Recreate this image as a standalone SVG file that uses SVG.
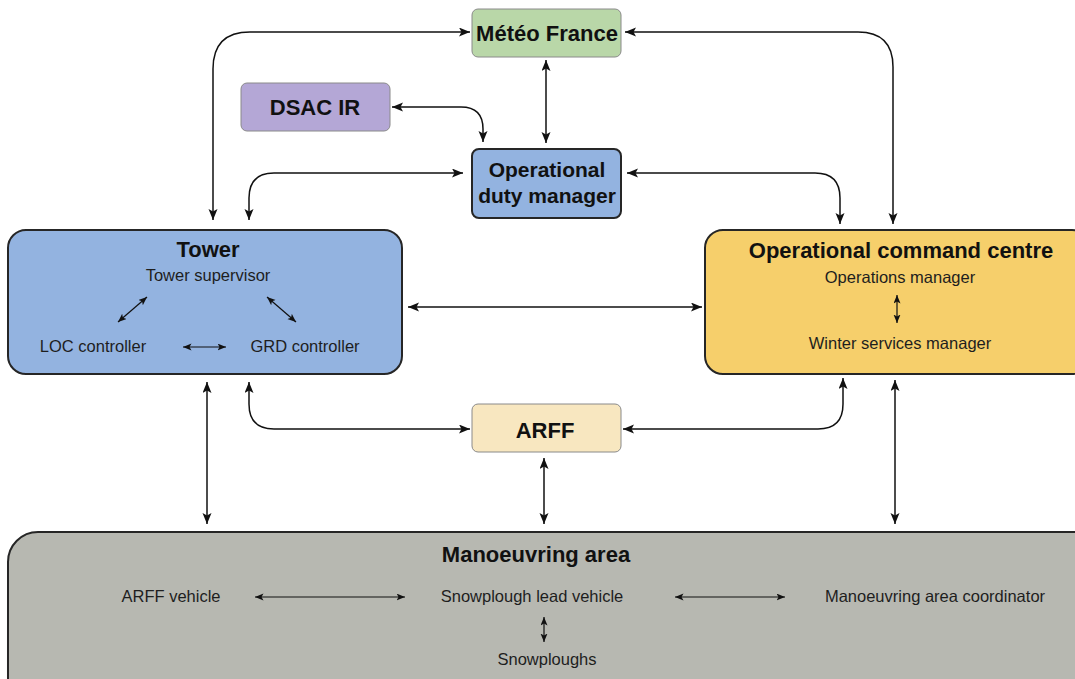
<svg xmlns="http://www.w3.org/2000/svg" width="1075" height="679" viewBox="0 0 1075 679">
<defs>
<style>
text{font-family:"Liberation Sans",Arial,sans-serif;fill:#111;text-anchor:middle}
.t{font-weight:bold;font-size:22px}
.s{font-size:16.5px;fill:#1e1e1e}
.c{fill:none;stroke:#111;stroke-width:1.5;marker-start:url(#ah);marker-end:url(#ah)}
.i{fill:none;stroke:#111;stroke-width:1.2;marker-start:url(#as);marker-end:url(#as)}
.thin{fill:#b9d7a8;stroke:#8a8a8a;stroke-width:1}
.bold{stroke:#262626;stroke-width:2}
</style>
<marker id="ah" markerUnits="userSpaceOnUse" markerWidth="12" markerHeight="10" refX="11" refY="4.5" orient="auto-start-reverse" viewBox="0 0 12 10">
<path d="M0,0 L11,4.5 L0,9 L2.5,4.5 z" fill="#111"/>
</marker>
<marker id="as" markerUnits="userSpaceOnUse" markerWidth="10" markerHeight="8" refX="8.5" refY="3.5" orient="auto-start-reverse" viewBox="0 0 10 8">
<path d="M0,0 L8.5,3.5 L0,7 L2,3.5 z" fill="#111"/>
</marker>
</defs>
<rect width="1075" height="679" fill="#ffffff"/>

<g id="connectors">
<path class="c" d="M470,32 H250 Q213,32 213,69 V220"/>
<path class="c" d="M625,32 H858 Q893,32 893,67 V224"/>
<path class="c" d="M392,107 H461 Q483,107 483,129 V142"/>
<path class="c" d="M546,60 V143"/>
<path class="c" d="M463,173 H274 Q249,173 249,198 V220"/>
<path class="c" d="M627,173 H815 Q840,173 840,198 V224"/>
<path class="c" d="M408,307 H702"/>
<path class="c" d="M207,382 V524"/>
<path class="c" d="M544,458 V524"/>
<path class="c" d="M895,380 V524"/>
<path class="c" d="M249,382 V404 Q249,429 274,429 H470"/>
<path class="c" d="M843,378 V404 Q843,429 818,429 H623"/>
</g>

<g id="meteo">
<rect x="472" y="9" width="149" height="48" rx="6" class="thin"/>
<text class="t" x="547" y="41">Météo France</text>
</g>

<g id="dsac">
<rect x="241" y="83" width="149" height="48" rx="6" fill="#b4a7d6" stroke="#8a8a8a"/>
<text class="t" x="315" y="115">DSAC IR</text>
</g>

<g id="odm">
<rect x="472" y="149" width="149" height="69" rx="7" fill="#93b3e0" class="bold"/>
<text class="t" x="547" y="177" style="font-size:21px">Operational</text>
<text class="t" x="547" y="203" style="font-size:21px">duty manager</text>
</g>

<g id="tower">
<rect x="8" y="230" width="394" height="144" rx="18" fill="#93b3e0" class="bold"/>
<text class="t" x="208" y="257">Tower</text>
<text class="s" x="208" y="281">Tower supervisor</text>
<text class="s" x="93" y="352">LOC controller</text>
<text class="s" x="305" y="352">GRD controller</text>
<path class="i" d="M118,322 L147,297"/>
<path class="i" d="M267,297 L296,322"/>
<path class="i" d="M183,347 H226"/>
</g>

<g id="occ">
<rect x="705" y="230" width="385" height="144" rx="18" fill="#f6cf6b" class="bold"/>
<text class="t" x="901" y="258">Operational command centre</text>
<text class="s" x="900" y="283">Operations manager</text>
<text class="s" x="900" y="349">Winter services manager</text>
<path class="i" d="M897,295 V323"/>
</g>

<g id="arff">
<rect x="472" y="404" width="149" height="48" rx="6" fill="#f8e7c0" stroke="#8a8a8a"/>
<text class="t" x="545" y="438">ARFF</text>
</g>

<g id="manoeuvring">
<rect x="8" y="532" width="1100" height="180" rx="30" fill="#b7b8b1" class="bold"/>
<text class="t" x="536" y="562">Manoeuvring area</text>
<text class="s" x="171" y="602">ARFF vehicle</text>
<text class="s" x="532" y="602">Snowplough lead vehicle</text>
<text class="s" x="935" y="602">Manoeuvring area coordinator</text>
<text class="s" x="547" y="665">Snowploughs</text>
<path class="i" d="M255,597 H405"/>
<path class="i" d="M675,597 H785"/>
<path class="i" d="M544,617 V642"/>
</g>
</svg>
